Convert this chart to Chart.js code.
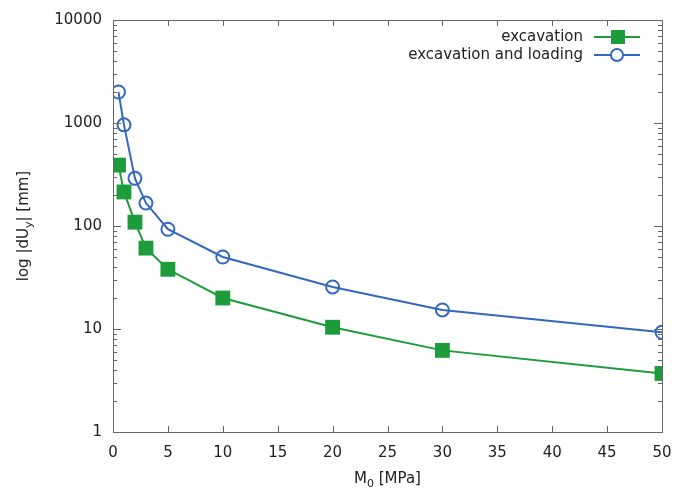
<!DOCTYPE html>
<html>
<head>
<meta charset="utf-8">
<script src="https://cdn.jsdelivr.net/npm/chart.js@4"></script>
<style>
  html, body { margin: 0; padding: 0; background: #fff; }
  #wrap { width: 682px; height: 489px; position: relative; }
</style>
</head>
<body>
<div id="wrap"><canvas id="chart"></canvas></div>
<script>
// Chart data
const moduli = [0.5, 1, 2, 3, 5, 10, 20, 30, 50];
const excavation = [390, 214, 109, 61, 38, 20, 10.4, 6.2, 3.7];
const excavationLoading = [2000, 960, 290, 167, 93, 50, 25.6, 15.3, 9.3];
const seriesNames = ['excavation', 'excavation and loading'];
const yMajorTicks = [1, 10, 100, 1000, 10000];

const GREEN = 'rgb(28,156,58)';
const BLUE = 'rgb(52,104,190)';
const TEXT = '#222';
const FONT = '"DejaVu Sans", Verdana, sans-serif';

// inner tick marks, frame, axis titles with subscripts
const framePlugin = {
  id: 'frame',
  afterDraw(chart) {
    const { ctx, chartArea: a, scales } = chart;
    ctx.save();
    ctx.strokeStyle = '#666';
    ctx.lineWidth = 1;
    ctx.strokeRect(a.left + 0.5, a.top + 0.5, a.right - a.left, a.bottom - a.top);

    ctx.beginPath();
    for (let v = 0; v <= 50; v += 5) {
      const px = Math.round(scales.x.getPixelForValue(v)) + 0.5;
      ctx.moveTo(px, a.bottom); ctx.lineTo(px, a.bottom - 6);
      ctx.moveTo(px, a.top); ctx.lineTo(px, a.top + 6);
    }
    for (let d = 1; d <= 10000; d *= 10) {
      for (let m = 1; m <= 9; m++) {
        const v = d * m;
        if (v > 10000) break;
        const py = Math.round(scales.y.getPixelForValue(v)) + 0.5;
        const len = m === 1 ? 8 : 4;
        ctx.moveTo(a.left, py); ctx.lineTo(a.left + len, py);
        ctx.moveTo(a.right, py); ctx.lineTo(a.right - len, py);
      }
    }
    ctx.stroke();

    // x title: M0 [MPa]
    ctx.fillStyle = TEXT;
    ctx.textBaseline = 'alphabetic';
    const xc = (a.left + a.right) / 2, xy = 483;
    ctx.font = '15px ' + FONT;
    const w1 = ctx.measureText('M').width;
    ctx.font = '11px ' + FONT;
    const w2 = ctx.measureText('0').width;
    ctx.font = '15px ' + FONT;
    const w3 = ctx.measureText(' [MPa]').width;
    let sx = xc - (w1 + w2 + w3) / 2;
    ctx.textAlign = 'left';
    ctx.fillText('M', sx, xy);
    ctx.font = '11px ' + FONT;
    ctx.fillText('0', sx + w1, xy + 4);
    ctx.font = '15px ' + FONT;
    ctx.fillText(' [MPa]', sx + w1 + w2, xy);

    // y title: log |dUy| [mm]
    ctx.translate(28, (a.top + a.bottom) / 2);
    ctx.rotate(-Math.PI / 2);
    const p1 = 'log |dU', p2 = 'y', p3 = '| [mm]';
    const q1 = ctx.measureText(p1).width;
    ctx.font = '11px ' + FONT;
    const q2 = ctx.measureText(p2).width;
    ctx.font = '15px ' + FONT;
    const q3 = ctx.measureText(p3).width;
    sx = -(q1 + q2 + q3) / 2;
    ctx.fillText(p1, sx, 0);
    ctx.font = '11px ' + FONT;
    ctx.fillText(p2, sx + q1, 4);
    ctx.font = '15px ' + FONT;
    ctx.fillText(p3, sx + q1 + q2, 0);
    ctx.restore();
  }
};

// gnuplot style legend: right-aligned text, sample on the right
const legendPlugin = {
  id: 'gnuLegend',
  afterDraw(chart) {
    const { ctx } = chart;
    ctx.save();
    ctx.font = '15px ' + FONT;
    ctx.textAlign = 'right';
    ctx.textBaseline = 'middle';
    chart.data.datasets.forEach((ds, i) => {
      const y = 37 + i * 18;
      ctx.fillStyle = TEXT;
      ctx.fillText(ds.label, 583, y);
      ctx.strokeStyle = ds.borderColor;
      ctx.lineWidth = 2;
      ctx.beginPath();
      ctx.moveTo(594, y); ctx.lineTo(640, y);
      ctx.stroke();
      if (i === 0) {
        ctx.fillStyle = ds.pointBackgroundColor;
        ctx.fillRect(618 - 7, y - 7, 14, 14);
      } else {
        ctx.fillStyle = '#fff';
        ctx.beginPath();
        ctx.arc(617, y, 6, 0, Math.PI * 2);
        ctx.fill();
        ctx.stroke();
      }
    });
    ctx.restore();
  }
};

new Chart(document.getElementById('chart'), {
  type: 'line',
  data: {
    datasets: [
      {
        label: seriesNames[0],
        data: moduli.map((x, i) => ({ x: x, y: excavation[i] })),
        borderColor: GREEN,
        backgroundColor: GREEN,
        pointBackgroundColor: GREEN,
        pointBorderColor: GREEN,
        pointStyle: 'rect',
        pointRadius: 10.5,
        pointBorderWidth: 0,
        borderWidth: 2,
        tension: 0
      },
      {
        label: seriesNames[1],
        data: moduli.map((x, i) => ({ x: x, y: excavationLoading[i] })),
        borderColor: BLUE,
        backgroundColor: '#fff',
        pointBackgroundColor: 'rgba(255,255,255,0)',
        pointBorderColor: BLUE,
        pointStyle: 'circle',
        pointRadius: 6.5,
        pointBorderWidth: 2,
        borderWidth: 2,
        tension: 0
      }
    ]
  },
  options: {
    responsive: true,
    maintainAspectRatio: false,
    animation: false,
    layout: { padding: { top: 20, right: 20, left: 0, bottom: 0 } },
    plugins: {
      legend: { display: false },
      tooltip: { enabled: false }
    },
    scales: {
      x: {
        type: 'linear',
        min: 0,
        max: 50,
        grid: { display: false },
        border: { display: false },
        ticks: {
          stepSize: 5,
          color: TEXT,
          font: { family: FONT, size: 15 },
          padding: 4,
          maxRotation: 0
        },
        afterFit(scale) { scale.height = 57; }
      },
      y: {
        type: 'logarithmic',
        min: 1,
        max: 10000,
        grid: { display: false },
        border: { display: false },
        afterBuildTicks(scale) {
          scale.ticks = yMajorTicks.map(v => ({ value: v, major: true }));
        },
        ticks: {
          autoSkip: false,
          color: TEXT,
          font: { family: FONT, size: 15 },
          padding: 3,
          callback: v => String(v)
        },
        afterFit(scale) { scale.width = 113; }
      }
    }
  },
  plugins: [framePlugin, legendPlugin]
});
</script>
</body>
</html>
